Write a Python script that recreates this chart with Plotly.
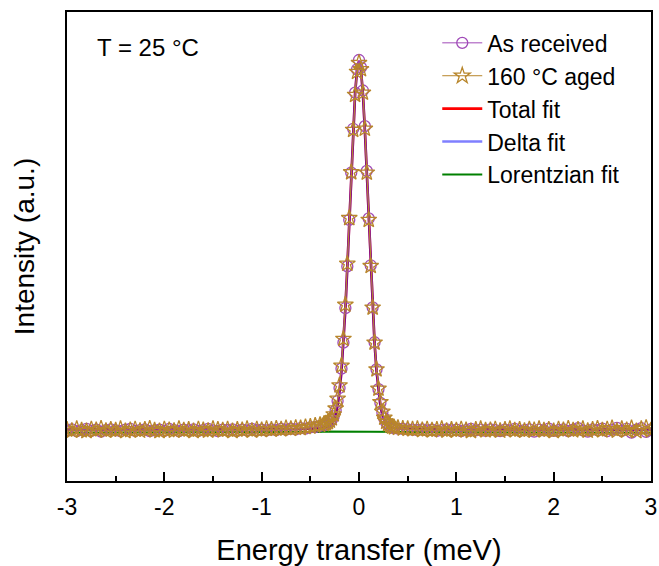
import plotly.graph_objects as go

# ---------------- data ----------------
energy_left = [-3.00, -2.95, -2.90, -2.85, -2.80, -2.75, -2.70, -2.65, -2.60, -2.55,
               -2.50, -2.45, -2.40, -2.35, -2.30, -2.25, -2.20, -2.15, -2.10, -2.05,
               -2.00, -1.95, -1.90, -1.85, -1.80, -1.75, -1.70, -1.65, -1.60, -1.55,
               -1.50, -1.45, -1.40, -1.35, -1.30, -1.25, -1.20, -1.15, -1.10, -1.05,
               -1.00, -0.95, -0.90, -0.85, -0.80, -0.75, -0.70, -0.65, -0.60, -0.55,
               -0.50, -0.45, -0.40]
energy_peak = [-0.36, -0.34, -0.32, -0.30, -0.28, -0.26, -0.24, -0.22, -0.20, -0.18,
               -0.16, -0.14, -0.12, -0.10, -0.08, -0.06, -0.04, -0.02, 0.00, 0.02,
               0.04, 0.06, 0.08, 0.10, 0.12, 0.14, 0.16, 0.18, 0.20, 0.22,
               0.24, 0.26, 0.28, 0.30, 0.32, 0.34, 0.36]
energy_right = [0.40, 0.45, 0.50, 0.55, 0.60, 0.65, 0.70, 0.75, 0.80, 0.85,
                0.90, 0.95, 1.00, 1.05, 1.10, 1.15, 1.20, 1.25, 1.30, 1.35,
                1.40, 1.45, 1.50, 1.55, 1.60, 1.65, 1.70, 1.75, 1.80, 1.85,
                1.90, 1.95, 2.00, 2.05, 2.10, 2.15, 2.20, 2.25, 2.30, 2.35,
                2.40, 2.45, 2.50, 2.55, 2.60, 2.65, 2.70, 2.75, 2.80, 2.85,
                2.90, 2.95, 3.00]

as_received_left = [0.004, 0.007, 0.002, 0.005, 0.008, 0.003, 0.006, 0.001, 0.005, 0.007,
                    0.004, 0.002, 0.006, 0.008, 0.003, 0.005, 0.007, 0.002, 0.004, 0.006,
                    0.003, 0.008, 0.005, 0.002, 0.006, 0.004, 0.007, 0.003, 0.005, 0.008,
                    0.004, 0.002, 0.006, 0.005, 0.007, 0.003, 0.006, 0.004, 0.008, 0.005,
                    0.006, 0.004, 0.007, 0.005, 0.008, 0.006, 0.009, 0.007, 0.010, 0.009,
                    0.012, 0.013, 0.016]
as_received_peak = [0.018, 0.020, 0.022, 0.027, 0.032, 0.042, 0.058, 0.083, 0.118, 0.170,
                    0.240, 0.333, 0.445, 0.570, 0.697, 0.815, 0.912, 0.975, 1.000, 0.980,
                    0.918, 0.822, 0.702, 0.574, 0.448, 0.335, 0.241, 0.168, 0.115, 0.078,
                    0.052, 0.036, 0.025, 0.019, 0.015, 0.012, 0.010]
as_received_right = [0.009, 0.008, 0.007, 0.006, 0.005, 0.007, 0.004, 0.006, 0.003, 0.005,
                     0.007, 0.004, 0.006, 0.002, 0.005, 0.008, 0.004, 0.006, 0.003, 0.007,
                     0.005, 0.002, 0.006, 0.004, 0.008, 0.003, 0.005, 0.007, 0.001, 0.006,
                     0.004, 0.009, 0.003, 0.005, 0.007, 0.002, 0.006, 0.010, 0.004, 0.001,
                     0.007, 0.005, 0.009, 0.002, 0.006, 0.011, 0.003, 0.008, -0.002, 0.006,
                     0.010, 0.000, 0.007]

aged_left = [0.006, 0.003, 0.008, 0.004, 0.002, 0.007, 0.005, 0.009, 0.003, 0.006,
             0.004, 0.008, 0.002, 0.005, 0.007, 0.003, 0.006, 0.009, 0.004, 0.002,
             0.007, 0.005, 0.003, 0.008, 0.004, 0.006, 0.002, 0.007, 0.005, 0.003,
             0.008, 0.006, 0.004, 0.007, 0.002, 0.006, 0.005, 0.008, 0.003, 0.007,
             0.005, 0.008, 0.006, 0.009, 0.007, 0.010, 0.008, 0.011, 0.010, 0.013,
             0.014, 0.017, 0.019]
aged_peak = [0.021, 0.023, 0.026, 0.030, 0.036, 0.047, 0.063, 0.089, 0.125, 0.178,
             0.250, 0.342, 0.452, 0.575, 0.698, 0.812, 0.906, 0.968, 0.992, 0.975,
             0.912, 0.815, 0.697, 0.570, 0.446, 0.334, 0.240, 0.168, 0.116, 0.080,
             0.054, 0.038, 0.027, 0.021, 0.017, 0.014, 0.012]
aged_right = [0.011, 0.009, 0.008, 0.007, 0.008, 0.005, 0.007, 0.004, 0.006, 0.008,
              0.003, 0.006, 0.004, 0.007, 0.005, 0.002, 0.006, 0.008, 0.004, 0.005,
              0.007, 0.003, 0.006, 0.008, 0.004, 0.006, 0.003, 0.007, 0.005, 0.008,
              0.004, 0.006, 0.002, 0.007, 0.005, 0.009, 0.004, 0.006, 0.008, 0.003,
              0.006, 0.009, 0.004, 0.007, 0.010, 0.003, 0.008, 0.005, 0.010, 0.002,
              0.008, 0.011, 0.004]

fit_energy_left = [-3.0, -2.0, -1.0, -0.6, -0.4]
fit_energy_right = [0.4, 0.6, 1.0, 2.0, 3.0]

total_fit_left = [0.006, 0.006, 0.007, 0.008, 0.010]
total_fit_peak = [0.011, 0.012, 0.014, 0.017, 0.022, 0.031, 0.046, 0.071, 0.109, 0.164,
                  0.238, 0.331, 0.443, 0.568, 0.695, 0.813, 0.910, 0.974, 0.997, 0.974,
                  0.910, 0.813, 0.695, 0.568, 0.443, 0.331, 0.238, 0.164, 0.109, 0.071,
                  0.046, 0.031, 0.022, 0.017, 0.014, 0.012, 0.011]
total_fit_right = [0.010, 0.008, 0.007, 0.006, 0.006]

delta_fit_left = [0.006, 0.006, 0.007, 0.008, 0.010]
delta_fit_peak = [0.011, 0.012, 0.014, 0.017, 0.022, 0.031, 0.046, 0.071, 0.109, 0.164,
                  0.238, 0.331, 0.443, 0.568, 0.695, 0.813, 0.909, 0.973, 0.996, 0.973,
                  0.909, 0.813, 0.695, 0.568, 0.443, 0.331, 0.238, 0.164, 0.109, 0.071,
                  0.046, 0.031, 0.022, 0.017, 0.014, 0.012, 0.011]
delta_fit_right = [0.010, 0.008, 0.007, 0.006, 0.006]

lorentz_fit_left = [-0.002, -0.002, -0.001, 0.000, 0.000]
lorentz_fit_peak = [0.001, 0.001, 0.001, 0.001, 0.001, 0.001, 0.001, 0.002, 0.002, 0.002,
                    0.002, 0.002, 0.002, 0.002, 0.002, 0.002, 0.002, 0.002, 0.002, 0.002,
                    0.002, 0.002, 0.002, 0.002, 0.002, 0.002, 0.002, 0.002, 0.002, 0.002,
                    0.002, 0.001, 0.001, 0.001, 0.001, 0.001, 0.001]
lorentz_fit_right = [0.000, 0.000, -0.001, -0.002, -0.002]

x_ticks = [-3, -2, -1, 0, 1, 2, 3]

# ---------------- assemble ----------------
data_x = energy_left + energy_peak + energy_right
as_received = as_received_left + as_received_peak + as_received_right
aged = aged_left + aged_peak + aged_right
fit_x = fit_energy_left + energy_peak + fit_energy_right
total_fit = total_fit_left + total_fit_peak + total_fit_right
delta_fit = delta_fit_left + delta_fit_peak + delta_fit_right
lorentz_fit = lorentz_fit_left + lorentz_fit_peak + lorentz_fit_right

FONT = "Arial, 'Liberation Sans', sans-serif"

fig = go.Figure()

fig.add_trace(go.Scatter(
    x=fit_x, y=total_fit, mode="lines", name="Total fit", legendrank=3,
    line=dict(color="#ff0000", width=2.6)))
fig.add_trace(go.Scatter(
    x=fit_x, y=delta_fit, mode="lines", name="Delta fit", legendrank=4,
    line=dict(color="rgba(0,0,255,0.5)", width=2.6)))
fig.add_trace(go.Scatter(
    x=fit_x, y=lorentz_fit, mode="lines", name="Lorentzian fit", legendrank=5,
    line=dict(color="#008000", width=2)))
fig.add_trace(go.Scatter(
    x=data_x, y=as_received, mode="lines+markers", name="As received", legendrank=1,
    line=dict(color="#a04ab8", width=1),
    marker=dict(symbol="circle-open", size=11, color="#a04ab8", line=dict(width=1.3))))
fig.add_trace(go.Scatter(
    x=data_x, y=aged, mode="lines+markers", name="160 °C aged", legendrank=2,
    line=dict(color="#b8862b", width=1),
    marker=dict(symbol="star-open", size=12, color="#b8862b", line=dict(width=1.3))))

fig.add_annotation(
    x=0.048, y=0.925, xref="paper", yref="paper", xanchor="left", yanchor="middle",
    text="T = 25 °C", showarrow=False, font=dict(family=FONT, size=24, color="black"))

fig.update_layout(
    width=659, height=566,
    margin=dict(l=67, r=8, t=12, b=85),
    paper_bgcolor="white", plot_bgcolor="white",
    font=dict(family=FONT, color="black"),
    legend=dict(x=0.634, y=0.98, xanchor="left", yanchor="top",
                bgcolor="rgba(0,0,0,0)", font=dict(family=FONT, size=23),
                tracegroupgap=0, itemwidth=40),
    showlegend=True,
)
fig.update_xaxes(
    range=[-3, 3], tickvals=x_ticks, ticktext=[str(v) for v in x_ticks],
    ticks="inside", ticklen=9, tickwidth=1.5, tickcolor="black",
    minor=dict(dtick=0.5, ticks="inside", ticklen=5, tickwidth=1.5, tickcolor="black"),
    showline=True, linewidth=1.5, linecolor="black", mirror=True,
    showgrid=False, zeroline=False, automargin=False, ticklabelstandoff=5,
    tickfont=dict(family=FONT, size=23, color="black"),
    title=dict(text="Energy transfer (meV)", font=dict(family=FONT, size=29, color="black"),
               standoff=25))
fig.update_yaxes(
    range=[-0.132, 1.129], showticklabels=False, ticks="",
    showline=True, linewidth=1.5, linecolor="black", mirror=True,
    showgrid=False, zeroline=False, automargin=False,
    title=dict(text="Intensity (a.u.)", font=dict(family=FONT, size=28, color="black"),
               standoff=22))

fig.write_html(
    "out.html",
    config={"displayModeBar": False},
    post_script="document.body.style.margin='0';document.body.style.overflow='hidden';")
